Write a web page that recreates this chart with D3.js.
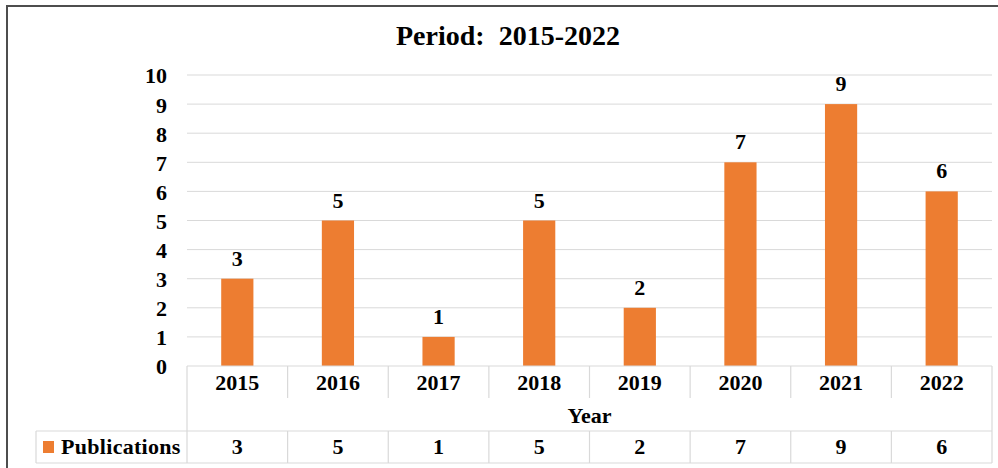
<!DOCTYPE html>
<html>
<head>
<meta charset="utf-8">
<script src="https://cdn.jsdelivr.net/npm/d3@7"></script>
<style>
  body { margin: 0; background: #fff; }
  text { font-family: "Liberation Serif", "Times New Roman", serif; font-weight: bold; fill: #000; }
</style>
</head>
<body>
<div id="chart"></div>
<script>
// Chart data
const years = ["2015", "2016", "2017", "2018", "2019", "2020", "2021", "2022"];
const publications = [3, 5, 1, 5, 2, 7, 9, 6];
const yTicks = [0, 1, 2, 3, 4, 5, 6, 7, 8, 9, 10];
const seriesName = "Publications";
const axisTitle = "Year";
const chartTitle = "Period:  2015-2022";

// Chart params
const svgWidth = 998;
const svgHeight = 468;
const plot = { left: 187, right: 992, top: 75, bottom: 366 };
const tableMid = 431;
const tableBottom = 463;
const legendLeft = 36;
const gridColor = "#d9d9d9";
const barColor = "#ED7D31";

const svg = d3.select("#chart")
  .append("svg")
  .attr("width", svgWidth)
  .attr("height", svgHeight);

// outer frame
svg.append("rect")
  .attr("x", 7)
  .attr("y", 6)
  .attr("width", 1000)
  .attr("height", 480)
  .attr("fill", "none")
  .attr("stroke", "#4d4d4d")
  .attr("stroke-width", 2);

// scales
const xScale = d3.scaleBand()
  .domain(years)
  .range([plot.left, plot.right])
  .padding(0);

const yScale = d3.scaleLinear()
  .domain([0, 10])
  .range([plot.bottom, plot.top]);

// gridlines
svg.append("g")
  .selectAll("line")
  .data(yTicks.filter(d => d > 0))
  .enter()
  .append("line")
  .attr("x1", plot.left)
  .attr("x2", plot.right)
  .attr("y1", d => yScale(d))
  .attr("y2", d => yScale(d))
  .attr("stroke", gridColor)
  .attr("stroke-width", 1);

// y axis labels
const leftAxis = d3.axisLeft(yScale).tickValues(yTicks).tickSize(0).tickPadding(20);
const yAxis = svg.append("g")
  .attr("transform", `translate(${plot.left}, 0)`)
  .call(leftAxis);
yAxis.select(".domain").remove();
yAxis.selectAll("text")
  .attr("font-size", 22)
  .attr("font-family", "Liberation Serif, Times New Roman, serif")
  .attr("font-weight", "bold")
  .attr("dy", "0.36em");

// bars
const barWidth = xScale.bandwidth() * 0.32;
svg.append("g")
  .selectAll("rect")
  .data(publications)
  .enter()
  .append("rect")
  .attr("x", (d, i) => xScale(years[i]) + (xScale.bandwidth() - barWidth) / 2)
  .attr("y", d => yScale(d))
  .attr("width", barWidth)
  .attr("height", d => yScale(0) - yScale(d))
  .attr("fill", barColor);

// value labels
svg.append("g")
  .selectAll("text")
  .data(publications)
  .enter()
  .append("text")
  .attr("x", (d, i) => xScale(years[i]) + xScale.bandwidth() / 2)
  .attr("y", d => yScale(d) - 13)
  .attr("text-anchor", "middle")
  .attr("font-size", 22)
  .text(d => d);

// title
svg.append("text")
  .attr("x", 508)
  .attr("y", 45)
  .attr("text-anchor", "middle")
  .attr("font-size", 28)
  .style("white-space", "pre")
  .text(chartTitle);

// data table lines
const table = svg.append("g")
  .attr("stroke", gridColor)
  .attr("stroke-width", 1.2)
  .attr("fill", "none");

table.append("line")
  .attr("x1", plot.left).attr("x2", plot.right)
  .attr("y1", plot.bottom).attr("y2", plot.bottom);
table.append("line")
  .attr("x1", legendLeft).attr("x2", plot.right)
  .attr("y1", tableMid).attr("y2", tableMid);
table.append("line")
  .attr("x1", legendLeft).attr("x2", plot.right)
  .attr("y1", tableBottom).attr("y2", tableBottom);
table.append("line")
  .attr("x1", legendLeft).attr("x2", legendLeft)
  .attr("y1", tableMid).attr("y2", tableBottom);
table.append("line")
  .attr("x1", plot.left).attr("x2", plot.left)
  .attr("y1", plot.bottom).attr("y2", tableBottom);
table.append("line")
  .attr("x1", plot.right).attr("x2", plot.right)
  .attr("y1", plot.bottom).attr("y2", tableBottom);

// inner category separators (year row and value row)
table.selectAll(".sepTop")
  .data(years.slice(1))
  .enter()
  .append("line")
  .attr("x1", d => xScale(d)).attr("x2", d => xScale(d))
  .attr("y1", plot.bottom).attr("y2", 398);
table.selectAll(".sepBottom")
  .data(years.slice(1))
  .enter()
  .append("line")
  .attr("x1", d => xScale(d)).attr("x2", d => xScale(d))
  .attr("y1", tableMid).attr("y2", tableBottom);

// year labels
svg.append("g")
  .selectAll("text")
  .data(years)
  .enter()
  .append("text")
  .attr("x", d => xScale(d) + xScale.bandwidth() / 2)
  .attr("y", 390)
  .attr("text-anchor", "middle")
  .attr("font-size", 22)
  .text(d => d);

// axis title
svg.append("text")
  .attr("x", (plot.left + plot.right) / 2)
  .attr("y", 423)
  .attr("text-anchor", "middle")
  .attr("font-size", 22)
  .text(axisTitle);

// publication values row
svg.append("g")
  .selectAll("text")
  .data(publications)
  .enter()
  .append("text")
  .attr("x", (d, i) => xScale(years[i]) + xScale.bandwidth() / 2)
  .attr("y", 454)
  .attr("text-anchor", "middle")
  .attr("font-size", 22)
  .text(d => d);

// legend key
svg.append("rect")
  .attr("x", 43)
  .attr("y", 441)
  .attr("width", 11)
  .attr("height", 12)
  .attr("fill", barColor);
svg.append("text")
  .attr("x", 61)
  .attr("y", 454)
  .attr("font-size", 22)
  .attr("letter-spacing", 0.3)
  .text(seriesName);
</script>
</body>
</html>
